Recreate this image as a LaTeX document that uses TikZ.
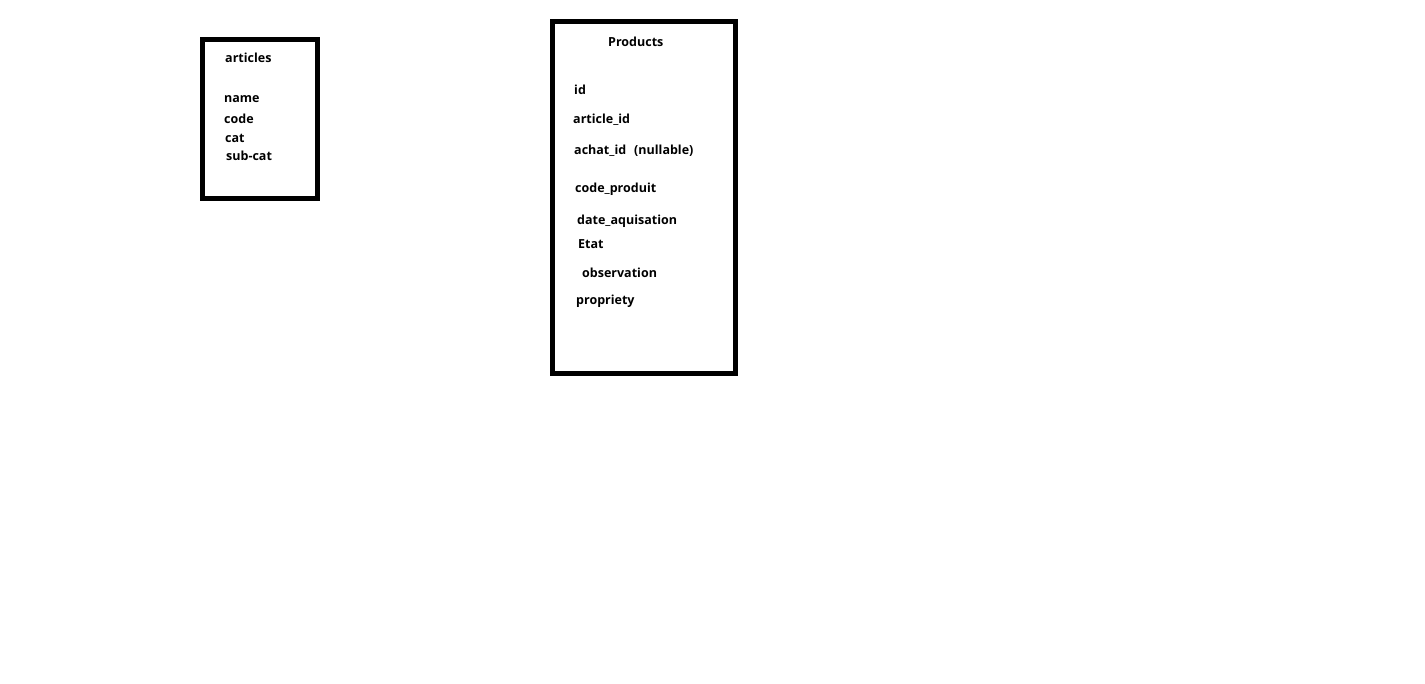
\documentclass[tikz,border=0pt]{standalone}
\usepackage{fontspec}
\setmainfont{Open Sans}
\begin{document}
\begin{tikzpicture}[x=1pt,y=-1pt,
  tbl/.style={draw=black,line width=5pt},
  fld/.style={anchor=base west,inner sep=0pt,font=\fontsize{12.5}{14}\selectfont\bfseries}]
\useasboundingbox[fill=white] (0,0) rectangle (1425,684);
\draw[tbl] (202.5,40) rectangle (317.5,199);
\draw[tbl] (552,22) rectangle (735.5,373.5);
\node[fld] (a0) at (225,62.5) {articles};
\node[fld] (a1) at (224,102.5) {name};
\node[fld] (a2) at (224,123.5) {code};
\node[fld] (a3) at (225,142.5) {cat};
\node[fld] (a4) at (226,160.5) {sub-cat};
\node[fld] (p0) at (608,46.5) {Products};
\node[fld] (p1) at (574,94.5) {id};
\node[fld] (p2) at (573,123.5) {article\_id};
\node[fld] (p3) at (574,154.5) {achat\_id\hspace{8pt}(nullable)};
\node[fld] (p4) at (575,192.5) {code\_produit};
\node[fld] (p5) at (577,224.5) {date\_aquisation};
\node[fld] (p6) at (578,248.5) {Etat};
\node[fld] (p7) at (582,277.5) {observation};
\node[fld] (p8) at (576,304.5) {propriety};
\end{tikzpicture}
\end{document}
